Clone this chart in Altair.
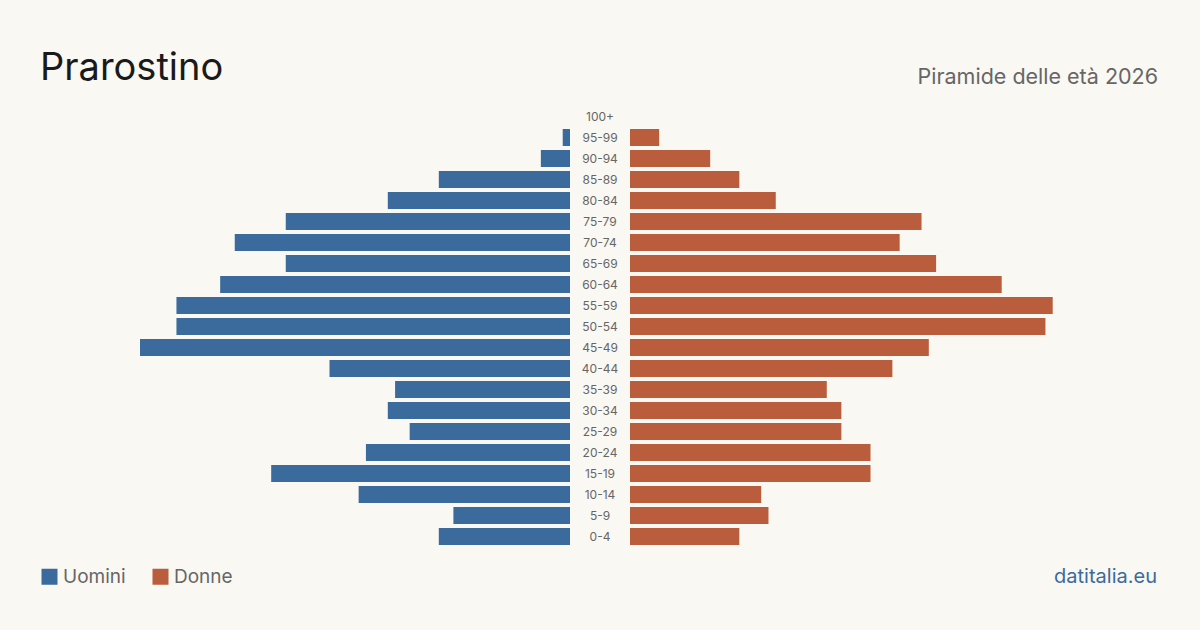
import altair as alt
import pandas as pd

# Age classes, top to bottom
ages = ["100+", "95-99", "90-94", "85-89", "80-84", "75-79", "70-74", "65-69",
        "60-64", "55-59", "50-54", "45-49", "40-44", "35-39", "30-34", "25-29",
        "20-24", "15-19", "10-14", "5-9", "0-4"]
men = [0, 1, 4, 18, 25, 39, 46, 39, 48, 54, 54, 59, 33, 24, 25, 22, 28, 41, 29, 16, 18]
women = [0, 4, 11, 15, 20, 40, 37, 42, 51, 58, 57, 41, 36, 27, 29, 29, 33, 33, 18, 19, 15]

sexes = ["Uomini", "Donne"]
colors = ["#3b6b9c", "#b95d3c"]

title_text = "Prarostino"
subtitle_text = "Piramide delle età 2026"
source_text = "datitalia.eu"

FONT = "Inter"
BG = "#faf8f3"

men_df = pd.DataFrame({"age": ages, "value": men, "sex": "Uomini"})
women_df = pd.DataFrame({"age": ages, "value": women, "sex": "Donne"})
label_df = pd.DataFrame({"age": ages})

vmax = max(max(men), max(women))

y_enc = alt.Y(
    "age:N", sort=ages, axis=None,
    scale=alt.Scale(range=[106, 547], paddingInner=0.19, paddingOuter=0.095),
)
color_enc = alt.Color(
    "sex:N",
    scale=alt.Scale(domain=sexes, range=colors),
    legend=alt.Legend(
        title=None, orient="none", legendX=40, legendY=567, direction="horizontal",
        symbolType="square", symbolSize=256, symbolStrokeWidth=0, symbolOpacity=1,
        labelFont=FONT, labelFontSize=19, labelColor="#666666", labelOffset=4,
        columnPadding=25,
    ),
)

men_bars = alt.Chart(men_df).mark_bar().encode(
    x=alt.X("value:Q", axis=None,
            scale=alt.Scale(domain=[0, vmax], range=[570, 140], nice=False)),
    y=y_enc,
    color=color_enc,
)

women_bars = alt.Chart(women_df).mark_bar().encode(
    x=alt.X("value:Q", axis=None,
            scale=alt.Scale(domain=[0, vmax], range=[630, 1060], nice=False)),
    y=y_enc,
    color=color_enc,
)

age_labels = alt.Chart(label_df).mark_text(
    font=FONT, fontSize=12, color="#666666", align="center", baseline="middle"
).encode(
    x=alt.value(600),
    y=y_enc,
    text="age:N",
)

title = alt.Chart(pd.DataFrame({"t": [title_text]})).mark_text(
    font=FONT, fontSize=38, color="#1a1a1a", align="left", baseline="alphabetic"
).encode(x=alt.value(40), y=alt.value(80), text="t:N")

subtitle = alt.Chart(pd.DataFrame({"t": [subtitle_text]})).mark_text(
    font=FONT, fontSize=21.5, color="#666666", align="right", baseline="alphabetic"
).encode(x=alt.value(1158), y=alt.value(84), text="t:N")

source = alt.Chart(pd.DataFrame({"t": [source_text]})).mark_text(
    font=FONT, fontSize=20, color="#3b6b9c", align="right", baseline="alphabetic"
).encode(x=alt.value(1157), y=alt.value(583), text="t:N")

chart = alt.layer(
    men_bars, women_bars, age_labels, title, subtitle, source
).resolve_scale(
    x="independent"
).properties(
    width=1200, height=630, background=BG, padding=0,
    autosize=alt.AutoSizeParams(type="none"),
).configure_view(stroke=None)

chart.save("out.html", embed_options={"renderer": "svg", "actions": False})
